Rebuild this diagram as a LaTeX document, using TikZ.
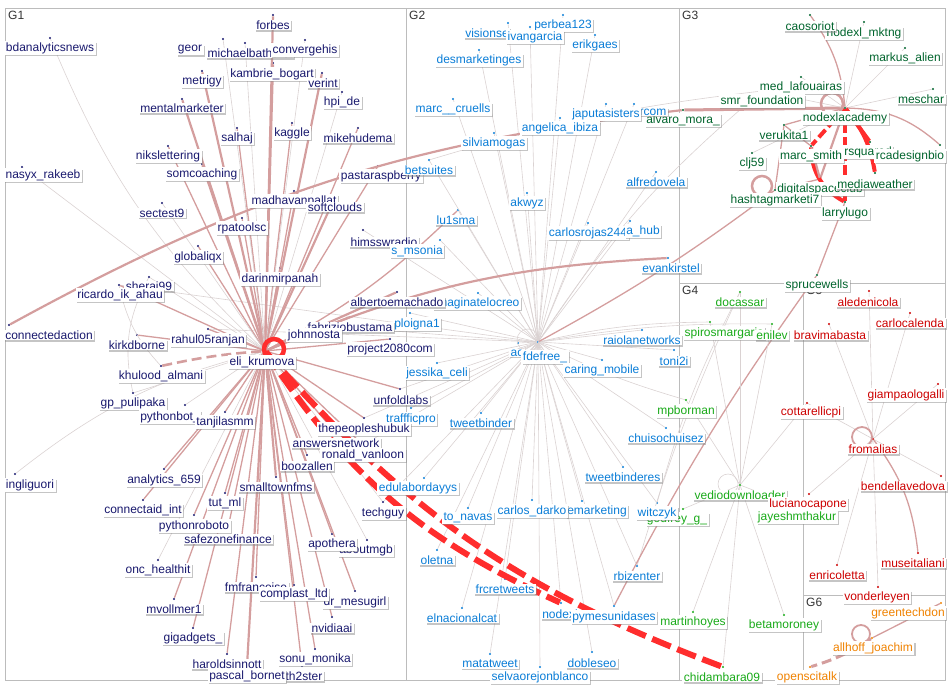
\documentclass[tikz,border=0pt]{standalone}
\usepackage{fontspec}
\setmainfont{Liberation Sans}
\usetikzlibrary{shadows}
\definecolor{gA}{RGB}{25,25,110}
\definecolor{gB}{RGB}{10,125,215}
\definecolor{gC}{RGB}{0,100,45}
\definecolor{gD}{RGB}{25,170,25}
\definecolor{gE}{RGB}{205,0,0}
\definecolor{gF}{RGB}{240,130,0}
\definecolor{egray}{RGB}{218,210,210}
\definecolor{epink}{RGB}{212,158,158}
\definecolor{ered}{RGB}{255,45,45}
\definecolor{framec}{RGB}{188,188,188}
\tikzset{
 vdot/.style={circle,inner sep=0pt,minimum size=2.2pt,fill=#1,draw=none},
 lab/.style={fill=white,inner xsep=1.5pt,inner ysep=1pt,text=#1,font=\fontsize{12}{13}\selectfont,
   drop shadow={shadow xshift=1.2pt,shadow yshift=-1.2pt,fill=black!45,opacity=.5}},
 e0/.style={draw=egray,line width=0.6pt},
 e1/.style={draw=epink,line width=1.3pt},
 e2/.style={draw=epink,line width=2.2pt},
 e3/.style={draw=epink,line width=3pt},
 er/.style={draw=ered,line width=4pt},
 erd/.style={draw=ered,line width=6pt,dash pattern=on 20pt off 7pt},
 erds/.style={draw=ered,line width=4pt,dash pattern=on 10pt off 4pt},
 epd/.style={draw=epink,line width=3pt,dash pattern=on 10pt off 5pt},
 ptitle/.style={font=\fontsize{12}{13}\selectfont,text=black!80,inner sep=0pt},
 framel/.style={draw=framec,line width=0.8pt},
}
\def\graphnodes{%
\VX{gA}{bdan}{50,38}{50,48}{bdanalyticsnews}
\VX{gA}{forbes}{273,15}{273,25}{forbes}
\VX{gA}{geor}{223,39}{190,50}{geor}
\VX{gA}{michaelb}{245,43}{250,53}{michaelbathurst}
\VX{gA}{converge}{305,40}{305,50}{convergehis}
\VX{gA}{metrigy}{202,71}{202,81}{metrigy}
\VX{gA}{kambrie}{273,63}{272,74}{kambrie\_bogart}
\VX{gA}{verint}{322,73}{323,83}{verint}
\VX{gA}{hpide}{342,92}{342,102}{hpi\_de}
\VX{gA}{mentalm}{182,99}{182,108}{mentalmarketer}
\VX{gA}{salhaj}{237,128}{237,138}{salhaj}
\VX{gA}{kaggle}{292,123}{292,133}{kaggle}
\VX{gA}{mikeh}{358,128}{358,138}{mikehudema}
\VX{gA}{niks}{168,146}{168,156}{nikslettering}
\VX{gA}{somcoach}{202,164}{202,174}{somcoaching}
\VX{gA}{nasyx}{22,167}{43,175}{nasyx\_rakeeb}
\VX{gA}{pasta}{378,166}{381,176}{pastaraspberry}
\VX{gA}{madhavan}{294,191}{294,201}{madhavanpallat}
\VX{gA}{softcl}{335,197}{335,207}{softclouds}
\VX{gA}{sectest}{162,203}{162,213}{sectest9}
\VX{gA}{rpat}{242,218}{242,228}{rpatoolsc}
\VX{gA}{globaliqx}{198,246}{198,257}{globaliqx}
\VX{gA}{darin}{280,268}{280,279}{darinmirpanah}
\VX{gA}{himss}{363,230}{384,242}{himsswradio}
\VX{gA}{sherai}{149,277}{149,286}{sherai99}
\VX{gA}{ricardo}{119,285}{120,295}{ricardo\_ik\_ahau}
\VX{gA}{connecteda}{9,325}{49,335}{connectedaction}
\VX{gA}{kirkd}{137,335}{137,345}{kirkdborne}
\VX{gA}{rahul}{208,329}{208,340}{rahul05ranjan}
\VX{gB}{imagina}{478,293}{477,303}{imaginatelocreo}
\VX{gA}{alberto}{397,292}{397,302}{albertoemachado}
\VX{gB}{ploigna}{410,313}{417,324}{ploigna1}
\VX{gA}{fabrizio}{350,317}{350,327}{fabriziobustama}
\VX{gA}{johnn}{314,325}{314,335}{johnnosta}
\VX{gA}{project}{390,339}{390,349}{project2080com}
\VX{gA}{eli}{265,351}{262,362}{eli\_krumova}
\VX{gA}{khulood}{161,366}{161,376}{khulood\_almani}
\VX{gA}{gppuli}{133,393}{133,403}{gp\_pulipaka}
\VX{gA}{pybot}{185,405}{170,417}{pythonbot\_}
\VX{gA}{tanjila}{225,412}{225,422}{tanjilasmm}
\VX{gA}{unfold}{400,389}{401,400}{unfoldlabs}
\VX{gB}{trafficpro}{411,408}{411,419}{traffficpro}
\VX{gA}{peoples}{364,418}{364,429}{thepeopleshubuk}
\VX{gA}{answers}{336,433}{336,443}{answersnetwork}
\VX{gA}{ronald}{363,445}{363,455}{ronald\_vanloon}
\VX{gA}{booz}{307,455}{307,466}{boozallen}
\VX{gA}{analytics}{164,469}{164,480}{analytics\_659}
\VX{gA}{smalltown}{276,477}{276,487}{smalltownfms}
\VX{gA}{ingliguori}{15,474}{30,485}{ingliguori}
\VX{gA}{tutml}{225,493}{225,503}{tut\_ml}
\VX{gA}{connectaid}{143,500}{143,510}{connectaid\_int}
\VX{gA}{techguy}{383,502}{383,513}{techguy}
\VX{gA}{pyroboto}{194,515}{194,526}{pythonroboto}
\VX{gA}{safezone}{228,528}{228,539}{safezonefinance}
\VX{gA}{aboutmgb}{367,540}{366,550}{aboutmgb}
\VX{gA}{apothera}{332,534}{332,544}{apothera}
\VX{gA}{onc}{158,560}{158,570}{onc\_healthit}
\VX{gA}{fmfranc}{256,577}{256,587}{fmfrancoise}
\VX{gA}{mesugirl}{355,591}{355,602}{dr\_mesugirl}
\VX{gA}{complast}{294,585}{294,594}{complast\_ltd}
\VX{gA}{mvollmer}{174,599}{174,609}{mvollmer1}
\VX{gA}{nvidia}{332,617}{332,628}{nvidiaai}
\VX{gA}{gigadgets}{193,628}{193,638}{gigadgets\_}
\VX{gA}{sonu}{315,649}{315,659}{sonu\_monika}
\VX{gA}{harold}{227,654}{227,664}{haroldsinnott}
\VX{gA}{thster}{302,666}{304,676}{th2ster}
\VX{gA}{pascal}{247,666}{247,676}{pascal\_bornet}
%
\VX{gB}{visionse}{508,23}{487,33}{visionse}
\VX{gB}{perbea}{563,15}{563,25}{perbea123}
\VX{gB}{ivangarcia}{530,27}{535,37}{ivangarcia}
\VX{gB}{erikgaes}{595,35}{595,45}{erikgaes}
\VX{gB}{desmark}{479,50}{479,60}{desmarketinges}
\VX{gB}{marccruells}{453,99}{453,109}{marc\_\_cruells}
\VX{gC}{alvaro}{683,110}{683,120}{alvaro\_mora\_}
\VX{gB}{rcom}{634,104}{653,112}{rcom}
\VX{gB}{japuta}{606,104}{606,114}{japutasisters}
\VX{gB}{angelica}{560,118}{560,128}{angelica\_ibiza}
\VX{gB}{silvia}{494,133}{494,143}{silviamogas}
\VX{gB}{betsuites}{429,160}{429,170}{betsuites}
\VX{gB}{alfredo}{656,172}{656,182}{alfredovela}
\VX{gB}{akwyz}{527,193}{527,203}{akwyz}
\VX{gB}{lu1sma}{458,210}{456,220}{lu1sma}
\VX{gB}{carlosrojas}{588,223}{588,233}{carlosrojas244}
\VX{gB}{ahub}{630,221}{643,231}{a\_hub}
\VX{gB}{smsonia}{440,240}{417,251}{s\_msonia}
\VX{gB}{evank}{668,258}{671,268}{evankirstel}
\VX{gD}{spiros}{710,322}{724,333}{spirosmargaris}
\VX{gB}{raiola}{642,330}{642,340}{raiolanetworks}
\VX{gB}{toni}{674,350}{674,361}{toni2i}
\VX{gB}{ac}{518,343}{517,353}{ac}
\VX{gB}{fdefree}{538,342}{545,357}{fdefree\_}
\VX{gB}{caring}{602,360}{602,370}{caring\_mobile}
\VX{gB}{jessika}{437,363}{437,373}{jessika\_celi}
\VX{gB}{tweetbinder}{481,413}{481,423}{tweetbinder}
\VX{gB}{chuiso}{666,428}{666,438}{chuisochuisez}
\VX{gB}{tweetbinderes}{623,467}{623,477}{tweetbinderes}
\VX{gB}{edulab}{424,478}{418,488}{edulabordayys}
\VX{gB}{emarketing}{582,501}{597,511}{emarketing}
\VX{gB}{carlosdarko}{532,500}{532,511}{carlos\_darko}
\VX{gB}{tonavas}{468,508}{468,518}{to\_navas}
\VX{gD}{godfrey}{683,509}{677,519}{godfrey\_g\_}
\VX{gB}{witczyk}{657,503}{657,513}{witczyk}
\VX{gB}{oletna}{437,550}{437,560}{oletna}
\VX{gB}{rbizenter}{637,566}{637,576}{rbizenter}
\VX{gB}{frcret}{505,579}{505,589}{frcretweets}
\VX{gB}{nodexl}{561,603}{560,614}{nodexl}
\VX{gB}{pymes}{614,606}{614,617}{pymesunidases}
\VX{gB}{elnacional}{462,608}{462,618}{elnacionalcat}
\VX{gB}{matatweet}{490,654}{490,664}{matatweet}
\VX{gB}{dobleseo}{592,652}{592,663}{dobleseo}
\VX{gB}{selva}{540,667}{540,677}{selvaorejonblanco}
%
\VX{gC}{mktng}{864,22}{864,33}{nodexl\_mktng}
\VX{gC}{caosoriot}{810,15}{810,26}{caosoriot}
\VX{gC}{markus}{905,48}{905,58}{markus\_alien}
\VX{gC}{medlaf}{801,77}{801,87}{med\_lafouairas}
\VX{gC}{smr}{762,91}{762,101}{smr\_foundation}
\VX{gC}{meschar}{933,89}{921,99}{meschar}
\VX{gC}{nodexlac}{845,108}{845,118}{nodexlacademy}
\VX{gC}{verukita}{784,125}{784,135}{verukita1}
\VX{gC}{clj}{752,153}{752,163}{clj59}
\VX{gC}{marcsmith}{811,146}{811,156}{marc\_smith}
\VX{gC}{rsquared}{870,142}{868,152}{rsquared}
\VX{gC}{rcadesign}{940,145}{910,156}{rcadesignbio}
\VX{gC}{digital}{820,179}{820,189}{digitalspaceclub}
\VX{gC}{mediaw}{875,173}{875,184}{mediaweather}
\VX{gC}{hashtag}{775,190}{775,200}{hashtagmarketi7}
\VX{gC}{larry}{845,202}{845,213}{larrylugo}
\VX{gC}{spruce}{817,275}{817,285}{sprucewells}
%
\VX{gD}{docassar}{740,292}{740,302}{docassar}
\VX{gD}{enilev}{772,324}{772,335}{enilev}
\VX{gD}{mpborman}{686,400}{686,411}{mpborman}
\VX{gD}{vedio}{740,485}{740,495}{vediodownloader}
\VX{gD}{martinh}{693,612}{693,622}{martinhoyes}
\VX{gD}{betam}{784,615}{784,625}{betamoroney}
\VX{gD}{chidam}{723,667}{722,677}{chidambara09}
%
\VX{gE}{aledenicola}{869,291}{868,302}{aledenicola}
\VX{gE}{carlocalenda}{910,313}{910,323}{carlocalenda}
\VX{gE}{bravima}{829,324}{830,335}{bravimabasta}
\VX{gE}{giampaolo}{938,384}{906,395}{giampaologalli}
\VX{gE}{cottarelli}{807,403}{811,412}{cottarellicpi}
\VX{gE}{fromalias}{873,439}{873,449}{fromalias}
\VX{gE}{bendella}{941,476}{903,486}{bendellavedova}
\VX{gE}{luciano}{809,494}{808,504}{lucianocapone}
\VX{gD}{jayesh}{797,507}{797,517}{jayeshmthakur}
\VX{gE}{museit}{918,553}{913,563}{museitaliani}
\VX{gE}{enrico}{837,565}{837,575}{enricoletta}
\VX{gE}{vonder}{878,587}{877,597}{vonderleyen}
%
\VX{gF}{greentech}{941,603}{908,613}{greentechdon}
\VX{gF}{allhoff}{872,638}{873,648}{allhoff\_joachim}
\VX{gF}{opensci}{810,667}{807,677}{openscitalk}
}
\begin{document}
\begin{tikzpicture}[x=1pt,y=-1pt]
\useasboundingbox (0,0) rectangle (950,688);
% panel frames
\draw[framel] (5,8) rectangle (945,680);
\draw[framel] (406,8) -- (406,680);
\draw[framel] (679,8) -- (679,680);
\draw[framel] (679,283) -- (945,283);
\draw[framel] (803,283) -- (803,680);
\draw[framel] (803,595) -- (945,595);
\node[ptitle,anchor=north west] (tG1) at (8,11) {G1};
\node[ptitle,anchor=north west] (tG2) at (409,11) {G2};
\node[ptitle,anchor=north west] (tG3) at (682,11) {G3};
\node[ptitle,anchor=north west] (tG4) at (682,286) {G4};
\node[ptitle,anchor=north west] (tG5) at (806,286) {G5};
\node[ptitle,anchor=north west] (tG6) at (806,598) {G6};
% pass 1: vertices
\def\VX#1#2#3#4#5{\node[vdot=#1] (#2) at (#3) {};}
\graphnodes
% ---------- edges ----------
\foreach \n in {johnn,peoples,techguy,unfold,himss,ronald,rahul,ricardo,jessika,trafficpro}
  \draw[e0] (fdefree) -- (\n);
\draw[e0] (fdefree) to[bend left=8] (smr);
\draw[e0] (fdefree) to[bend left=6] (spiros);
\draw[e0] (fdefree) to[bend left=5] (enilev);
\draw[e0] (fdefree) to[bend right=5] (mpborman);
\draw[e0] (betsuites) to[bend left=5] (smr);
\draw[e0] (docassar) to[bend right=6] (witczyk);
\draw[e0] (docassar) to[bend right=4] (rbizenter);
\draw[e1] (spruce) to[bend right=4] (pymes);
\draw[e0] (sherai) to[bend right=20] (gppuli);
\draw[e0] (ricardo) to[bend right=15] (khulood);
% G2 hub
\foreach \n in {visionse,perbea,ivangarcia,erikgaes,desmark,marccruells,japuta,rcom,angelica,silvia,betsuites,alfredo,akwyz,lu1sma,carlosrojas,ahub,smsonia,imagina,ploigna,ac,raiola,caring,toni,tweetbinder,chuiso,edulab,tonavas,carlosdarko,emarketing,tweetbinderes,witczyk,oletna,rbizenter,frcret,elnacional,pymes,matatweet,selva,dobleseo,nodexl}
  \draw[e0] (fdefree) -- (\n);
\draw[e0] ([xshift=-10pt,yshift=2pt]fdefree.center) circle[radius=11pt];
\draw[e1] (fdefree) to[bend right=4] (hashtag);
% G1 hub
\foreach \n/\s in {forbes/e2,kambrie/e2,verint/e2,metrigy/e2,mentalm/e2,somcoach/e2,niks/e1,salhaj/e1,kaggle/e1,mikeh/e1,pasta/e1,madhavan/e1,softcl/e2,rpat/e1,globaliqx/e1,darin/e1,sectest/e0,hpide/e0,converge/e0,michaelb/e0,geor/e0,sherai/e0,ricardo/e1,kirkd/e1,rahul/e1,johnn/e1,fabrizio/e2,alberto/e2,project/e1,unfold/e1,peoples/e1,answers/e1,ronald/e1,booz/e1,analytics/e1,smalltown/e2,tutml/e1,techguy/e0,connectaid/e1,pyroboto/e1,safezone/e1,apothera/e1,aboutmgb/e0,onc/e0,fmfranc/e1,complast/e1,mesugirl/e1,mvollmer/e1,nvidia/e1,gigadgets/e1,sonu/e1,harold/e1,pascal/e2,thster/e1,tanjila/e1,pybot/e0,gppuli/e0,nasyx/e0}
  \draw[\s] (eli) -- (\n);
\draw[e0] (eli) to[bend left=12] (bdan);
\draw[e0] (eli) to[bend right=12] (ingliguori);
\draw[e1] (eli) to[bend right=8] (lu1sma);
\draw[e2] (eli) to[bend left=10] (evank);
\draw[e2] (connecteda) to[bend left=11] (alvaro);
\draw[epd,line width=2.6pt] (khulood) to[bend left=4] (eli);
\draw[erd] (eli) to[bend right=14] (chidam);
\draw[erd] (eli) to[bend right=16] (nodexl);
\draw[ered,line width=4.5pt] ([xshift=9pt,yshift=2pt]eli.center) circle[radius=10pt];
% G3
\draw[e3] (alvaro) -- (nodexlac);
\foreach \n in {mktng,markus,meschar,medlaf,smr,clj}
  \draw[e0] (nodexlac) -- (\n);
\draw[e1] (nodexlac) to[bend right=15] (caosoriot);
\draw[e1] (nodexlac) to[bend left=20] (rcadesign);
\draw[e1] (verukita) -- (nodexlac);
\draw[e1] (verukita) -- (marcsmith);
\draw[e1] (hashtag) -- (digital);
\draw[e1] (hashtag) -- (verukita);
\draw[e1] (spruce) -- (larry);
\draw[e2] (nodexlac) -- (digital);
\draw[erds] (nodexlac) -- (marcsmith);
\draw[erds] (nodexlac) -- (larry);
\draw[er] (nodexlac) -- (rsquared);
\draw[er] (nodexlac) to[bend left=15] (mediaw);
\draw[er] (marcsmith) to[bend right=30] (larry);
\draw[e2] (marcsmith) -- (digital);
\draw[draw=epink,line width=2.5pt] ([xshift=-13pt,yshift=4pt]nodexlac.center) circle[radius=11pt];
\draw[draw=epink,line width=2.5pt] ([xshift=-13pt,yshift=4pt]hashtag.center) circle[radius=10pt];
% G4
\foreach \n in {docassar,spiros,enilev,mpborman,godfrey,jayesh,martinh,betam,chidam,cottarelli}
  \draw[e0] (vedio) -- (\n);
\draw[e0] ([xshift=-12pt,yshift=1pt]vedio.center) circle[radius=10pt];
% G5
\foreach \n in {aledenicola,carlocalenda,bravima,giampaolo,cottarelli,bendella,luciano,enrico,vonder}
  \draw[e0] (fromalias) -- (\n);
\draw[e1] (fromalias) to[bend left=15] (museit);
\draw[draw=epink,line width=1.8pt] ([xshift=-11pt,yshift=2pt]fromalias.center) circle[radius=10pt];
% G6
\draw[e1] (allhoff) -- (greentech);
\draw[epd] (allhoff) to[bend left=8] (opensci);
\draw[draw=epink,line width=1.8pt] ([xshift=-11pt,yshift=4pt]allhoff.center) circle[radius=9pt];
% pass 2: labels
\def\VX#1#2#3#4#5{\node[lab=#1] (#2-l) at (#4) {#5};}
\graphnodes
\end{tikzpicture}
\end{document}
